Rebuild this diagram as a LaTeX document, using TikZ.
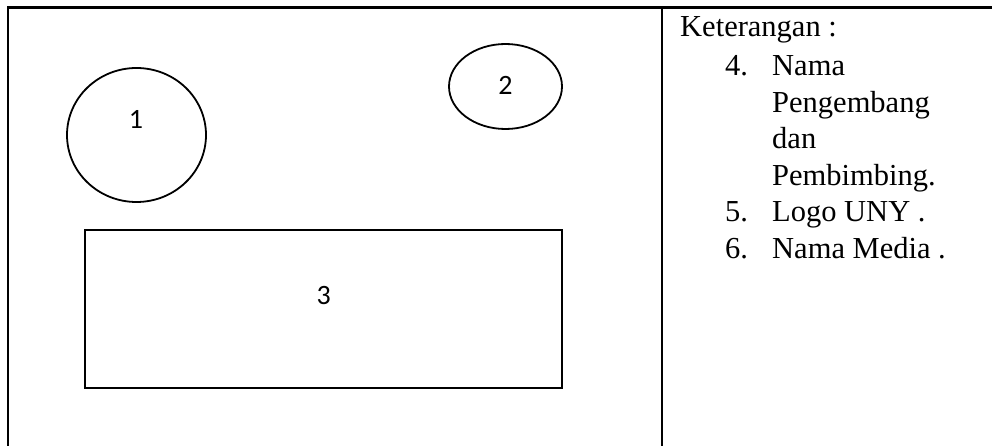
\documentclass[tikz,border=0pt]{standalone}
\usepackage{fontspec}
\setmainfont{Liberation Serif}
\newfontfamily\numfont{Carlito}
\usetikzlibrary{shapes.geometric}
\begin{document}
\begin{tikzpicture}[x=1pt,y=-1pt,
  shapeline/.style={draw=black, line width=1.8pt, inner sep=0pt, outer sep=0pt},
  numlabel/.style={font=\numfont\fontsize{28}{34}\selectfont, inner sep=0pt, anchor=base},
  legend/.style={font=\fontsize{30.5}{36}\selectfont, inner sep=0pt, anchor=base west},
  tableline/.style={draw=black, line width=2.6pt, line join=miter}
]
\useasboundingbox (0,0) rectangle (992,446);
% table rules
\coordinate (tl) at (8,7.3);
\coordinate (bl) at (8,446);
\coordinate (tr) at (992,7.3);
\coordinate (dt) at (662,7.3);
\coordinate (db) at (662,446);
\draw[tableline] (bl) -- (tl) -- (tr);
\draw[tableline] (dt) -- (db);
% shapes
\node[shapeline, ellipse, minimum width=139pt, minimum height=134pt] (c1) at (136.5,135) {};
\node[shapeline, ellipse, minimum width=113pt, minimum height=85pt] (c2) at (505.5,86.5) {};
\node[shapeline, rectangle, minimum width=477pt, minimum height=158pt] (r3) at (323.5,309) {};
% shape labels
\node[numlabel] (l1) at (136,129) {1};
\node[numlabel] (l2) at (505.5,95) {2};
\node[numlabel] (l3) at (323.7,304) {3};
% legend
\node[legend] (k) at (680,37) {Keterangan :};
\node[legend] (n4) at (725,76) {4.};
\node[legend] (t4a) at (772,76) {Nama};
\node[legend] (t4b) at (772,112.5) {Pengembang};
\node[legend] (t4c) at (772,149) {dan};
\node[legend] (t4d) at (772,185.5) {Pembimbing.};
\node[legend] (n5) at (725,222) {5.};
\node[legend] (t5) at (772,222) {Logo UNY .};
\node[legend] (n6) at (725,258.5) {6.};
\node[legend] (t6) at (772,258.5) {Nama Media .};
\end{tikzpicture}
\end{document}
